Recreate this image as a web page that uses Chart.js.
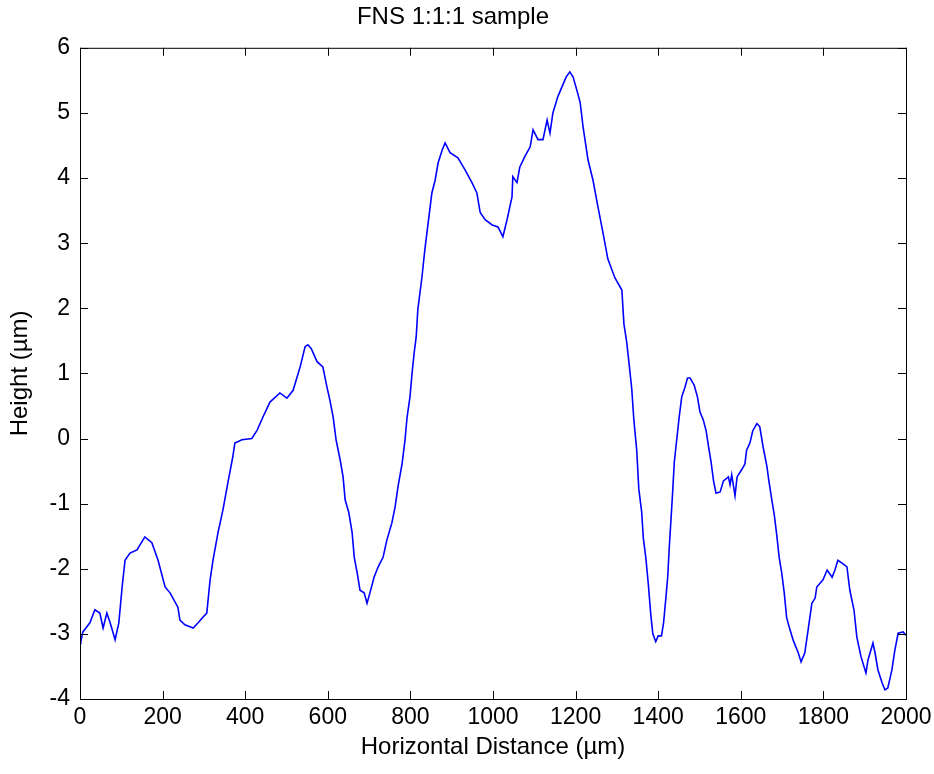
<!DOCTYPE html>
<html>
<head>
<meta charset="utf-8">
<title>FNS 1:1:1 sample</title>
<script src="https://cdn.jsdelivr.net/npm/chart.js@4"></script>
<style>
  html, body { margin: 0; padding: 0; background: #fff; }
  #profile { display: block; }
</style>
</head>
<body>
<canvas id="profile" width="934" height="774"></canvas>
<script>
// profile data (distance in µm, height in µm)
const distance = [
  0, 2, 7, 24, 36, 48, 56, 65, 73, 85, 94, 102, 109, 121, 138, 157, 174, 189, 206, 218,
  237, 242, 254, 274, 286, 298, 307, 315, 322, 334, 346, 358, 370, 375, 392, 416, 429, 443, 460, 484,
  501, 516, 533, 545, 552, 560, 574, 588, 598, 605, 613, 620, 630, 637, 642, 651, 659, 664, 671, 678,
  688, 695, 702, 712, 722, 734, 743, 755, 763, 770, 780, 787, 792, 799, 804, 809, 814, 818, 828, 835,
  843, 852, 860, 867, 877, 884, 896, 915, 932, 949, 961, 969, 981, 998, 1012, 1024, 1034, 1046, 1048, 1058,
  1065, 1077, 1090, 1097, 1109, 1121, 1131, 1138, 1145, 1157, 1167, 1177, 1186, 1194, 1203, 1211, 1218, 1230, 1242, 1254,
  1266, 1278, 1295, 1312, 1317, 1324, 1330, 1336, 1341, 1348, 1353, 1360, 1364, 1370, 1376, 1382, 1387, 1394, 1400, 1408,
  1413, 1419, 1423, 1427, 1431, 1435, 1439, 1445, 1451, 1457, 1465, 1471, 1477, 1487, 1495, 1501, 1509, 1516, 1522, 1528,
  1534, 1540, 1550, 1558, 1570, 1574, 1578, 1586, 1591, 1602, 1610, 1614, 1622, 1629, 1639, 1646, 1654, 1663, 1668, 1675,
  1681, 1687, 1693, 1699, 1705, 1711, 1717, 1727, 1739, 1746, 1755, 1763, 1772, 1780, 1784, 1799, 1809, 1821, 1828, 1835,
  1847, 1857, 1864, 1874, 1881, 1891, 1903, 1908, 1920, 1925, 1932, 1942, 1949, 1956, 1966, 1973, 1981, 1993, 2000
];
const height = [
  -3.1, -3.12, -2.97, -2.83, -2.63, -2.68, -2.91, -2.68, -2.83, -3.09, -2.83, -2.28, -1.87, -1.76, -1.71, -1.51, -1.6, -1.87, -2.28, -2.37,
  -2.59, -2.79, -2.86, -2.91, -2.83, -2.74, -2.68, -2.17, -1.87, -1.45, -1.1, -0.68, -0.28, -0.07, -0.02, 0.0, 0.13, 0.33, 0.56, 0.7,
  0.62, 0.74, 1.1, 1.41, 1.44, 1.38, 1.18, 1.1, 0.79, 0.59, 0.33, -0.02, -0.33, -0.59, -0.94, -1.14, -1.45, -1.82, -2.06, -2.33,
  -2.37, -2.53, -2.37, -2.13, -1.97, -1.82, -1.56, -1.3, -1.05, -0.74, -0.38, -0.02, 0.33, 0.64, 1.0, 1.31, 1.56, 1.98, 2.48, 2.9,
  3.31, 3.77, 3.97, 4.23, 4.43, 4.54, 4.39, 4.31, 4.13, 3.93, 3.77, 3.47, 3.36, 3.28, 3.25, 3.1, 3.36, 3.71, 4.02, 3.93,
  4.17, 4.33, 4.48, 4.74, 4.59, 4.59, 4.89, 4.69, 5.0, 5.25, 5.4, 5.55, 5.63, 5.55, 5.35, 5.16, 4.79, 4.28, 3.97, 3.56,
  3.17, 2.76, 2.47, 2.28, 1.76, 1.47, 1.12, 0.76, 0.29, -0.18, -0.77, -1.13, -1.53, -1.83, -2.23, -2.7, -3.0, -3.12, -3.03, -3.03,
  -2.83, -2.42, -2.13, -1.65, -1.24, -0.82, -0.36, -0.01, 0.34, 0.64, 0.79, 0.93, 0.93, 0.82, 0.64, 0.41, 0.29, 0.12, -0.13, -0.36,
  -0.65, -0.84, -0.82, -0.65, -0.59, -0.71, -0.56, -0.88, -0.59, -0.48, -0.39, -0.18, -0.07, 0.12, 0.23, 0.18, -0.13, -0.42, -0.65, -0.94,
  -1.17, -1.48, -1.83, -2.06, -2.36, -2.75, -2.89, -3.1, -3.29, -3.43, -3.29, -2.94, -2.53, -2.45, -2.28, -2.17, -2.02, -2.13, -2.02, -1.87,
  -1.92, -1.97, -2.33, -2.63, -3.05, -3.35, -3.6, -3.4, -3.14, -3.29, -3.55, -3.75, -3.86, -3.83, -3.55, -3.25, -2.99, -2.97, -3.02
];

const xTicks = [0, 200, 400, 600, 800, 1000, 1200, 1400, 1600, 1800, 2000];
const yTicks = [-4, -3, -2, -1, 0, 1, 2, 3, 4, 5, 6];

const FONT = 'Liberation Sans, Arial, sans-serif';

// box round the plot with the ticks pointing inward, like matlab
const boxTicks = {
  id: 'boxTicks',
  afterDraw(chart) {
    const { ctx, chartArea: a, scales } = chart;
    const len = 8;
    ctx.save();
    ctx.strokeStyle = '#000';
    ctx.lineWidth = 1;
    ctx.strokeRect(a.left + 0.5, a.top + 0.5, a.right - a.left, a.bottom - a.top);
    ctx.beginPath();
    xTicks.forEach(v => {
      const px = Math.round(scales.x.getPixelForValue(v)) + 0.5;
      ctx.moveTo(px, a.bottom); ctx.lineTo(px, a.bottom - len);
      ctx.moveTo(px, a.top); ctx.lineTo(px, a.top + len);
    });
    yTicks.forEach(v => {
      const py = Math.round(scales.y.getPixelForValue(v)) + 0.5;
      ctx.moveTo(a.left, py); ctx.lineTo(a.left + len, py);
      ctx.moveTo(a.right, py); ctx.lineTo(a.right - len, py);
    });
    ctx.stroke();
    ctx.restore();
  }
};

new Chart(document.getElementById('profile'), {
  type: 'line',
  data: {
    datasets: [{
      data: distance.map((d, i) => ({ x: d, y: height[i] })),
      borderColor: '#0000ff',
      borderWidth: 1.6,
      pointRadius: 0,
      tension: 0,
      fill: false
    }]
  },
  options: {
    responsive: false,
    animation: false,
    layout: { padding: { left: 0, right: 28, top: 0, bottom: 0 } },
    plugins: {
      legend: { display: false },
      tooltip: { enabled: false },
      title: {
        display: true,
        text: 'FNS 1:1:1 sample',
        color: '#000',
        font: { family: FONT, size: 24, weight: 'normal' },
        padding: { top: 3, bottom: 16 }
      }
    },
    scales: {
      x: {
        type: 'linear',
        min: 0,
        max: 2000,
        afterBuildTicks: s => { s.ticks = xTicks.map(v => ({ value: v })); },
        afterFit: s => { s.height = 75; s.paddingLeft = 0; s.paddingRight = 0; },
        grid: { display: false, drawTicks: false },
        border: { display: false },
        ticks: {
          color: '#000',
          font: { family: FONT, size: 23 },
          padding: 5,
          maxRotation: 0,
          callback: v => String(v)
        },
        title: {
          display: true,
          text: 'Horizontal Distance (µm)',
          color: '#000',
          font: { family: FONT, size: 24 },
          padding: { top: 0, bottom: 12 }
        }
      },
      y: {
        min: -4,
        max: 6,
        afterBuildTicks: s => { s.ticks = yTicks.map(v => ({ value: v })); },
        afterFit: s => { s.width = 80; },
        grid: { display: false, drawTicks: false },
        border: { display: false },
        ticks: {
          color: '#000',
          font: { family: FONT, size: 23 },
          padding: 10,
          callback: v => String(v)
        },
        title: {
          display: true,
          text: 'Height (µm)',
          color: '#000',
          font: { family: FONT, size: 24 },
          padding: { top: 6, bottom: 0 }
        }
      }
    }
  },
  plugins: [boxTicks]
});
</script>
</body>
</html>
